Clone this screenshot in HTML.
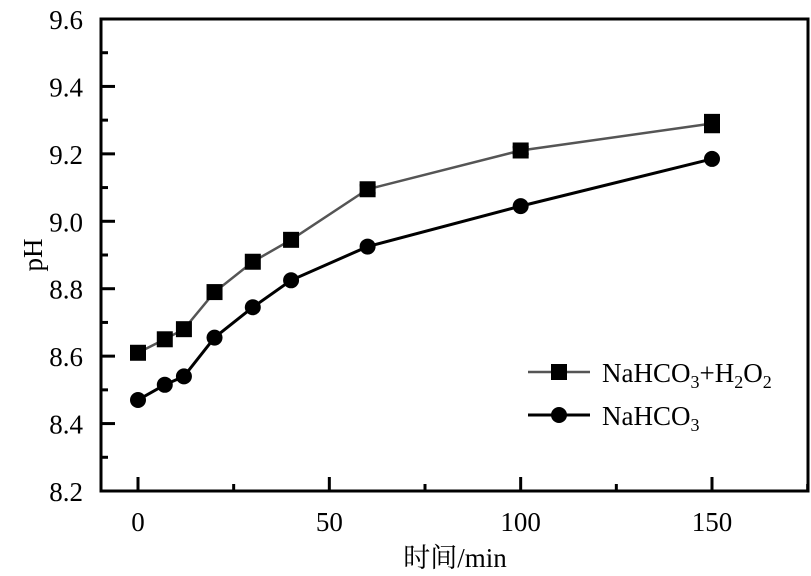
<!DOCTYPE html>
<html><head><meta charset="utf-8"><style>
body{margin:0;background:#fff;}
svg{display:block;font-family:"Liberation Serif","Noto Serif CJK SC",serif;}
</style></head><body>
<svg id="chart" width="811" height="576" viewBox="0 0 811 576" xmlns="http://www.w3.org/2000/svg">
<g id="plot"></g>
</svg>
<script>
const times=[0,7,12,20,30,40,60,100,150];
const phH2O2=[8.61,8.65,8.68,8.79,8.88,8.945,9.095,9.21,9.29];
const errH2O2=[0,0,0,0,0,0,0.012,0.01,0.025];
const phNaHCO3=[8.47,8.515,8.54,8.655,8.745,8.825,8.925,9.045,9.185];
const yTicks=[8.2,8.4,8.6,8.8,9.0,9.2,9.4,9.6];
const xTicks=[0,50,100,150];

const L=101,R=808,T=19,B=491;
const x=v=>138+(v-0)*(712-138)/150;
const y=v=>B-(v-8.2)*(B-T)/1.4;
const NS="http://www.w3.org/2000/svg";
const g=document.getElementById('plot');
function mk(tag,attrs,parent){const e=document.createElementNS(NS,tag);for(const k in attrs)e.setAttribute(k,attrs[k]);(parent||g).appendChild(e);return e;}

const frame=mk('rect',{x:L,y:T,width:R-L,height:B-T,fill:'none',stroke:'#000','stroke-width':3});



yTicks.forEach((v,i)=>{
  const t=mk('line',{x1:L,x2:L+14,y1:y(v),y2:y(v),stroke:'#000','stroke-width':3});
  
  
  if(i<yTicks.length-1){
    const m=mk('line',{x1:L,x2:L+7,y1:y(v+0.1),y2:y(v+0.1),stroke:'#000','stroke-width':3});
    
    
  }
  const lb=mk('text',{x:L-18,y:y(v)+10,'text-anchor':'end','font-size':27});
  lb.textContent=v.toFixed(1);
  
  
});
xTicks.forEach((v,i)=>{
  const t=mk('line',{x1:x(v),x2:x(v),y1:B,y2:B-14,stroke:'#000','stroke-width':3});
  
  
  const m=mk('line',{x1:x(v+25),x2:x(v+25),y1:B,y2:B-7,stroke:'#000','stroke-width':3});
  
  
  const lb=mk('text',{x:x(v),y:531,'text-anchor':'middle','font-size':27});
  lb.textContent=String(v);
  
  
});

const l1=mk('polyline',{points:times.map((t,i)=>x(t)+','+y(phH2O2[i])).join(' '),fill:'none',stroke:'#555','stroke-width':2.5});


const l2=mk('polyline',{points:times.map((t,i)=>x(t)+','+y(phNaHCO3[i])).join(' '),fill:'none',stroke:'#000','stroke-width':3});



times.forEach((t,i)=>{
  const e=errH2O2[i];
  if(e>0){
    const eb=mk('path',{d:`M${x(t)-8},${y(phH2O2[i]+e)}h16M${x(t)},${y(phH2O2[i]+e)}V${y(phH2O2[i]-e)}M${x(t)-8},${y(phH2O2[i]-e)}h16`,stroke:'#000','stroke-width':2.5,fill:'none'});
    
    
  }
  const s=mk('rect',{x:x(t)-8,y:y(phH2O2[i])-8,width:16,height:16,fill:'#000'});
  
  
  const c=mk('circle',{cx:x(t),cy:y(phNaHCO3[i]),r:8,fill:'#000'});
  
  
});
</script>
<svg style="position:absolute;left:0;top:0" width="811" height="576">
<g font-family="Liberation Serif, serif" font-size="27">
<line x1="528" y1="372" x2="590" y2="372" stroke="#555" stroke-width="2.5"/>
<rect x="551" y="364" width="16" height="16" fill="#000"/>
<text x="602" y="382">NaHCO<tspan font-size="18" dy="6">3</tspan><tspan dy="-6">+H</tspan><tspan font-size="18" dy="6">2</tspan><tspan dy="-6">O</tspan><tspan font-size="18" dy="6">2</tspan></text>
<line x1="528" y1="415" x2="590" y2="415" stroke="#000" stroke-width="3"/>
<circle cx="559" cy="415" r="8" fill="#000"/>
<text x="602" y="425">NaHCO<tspan font-size="18" dy="6">3</tspan></text>
</g>
<text x="0" y="0" transform="translate(42,255) rotate(-90)" text-anchor="middle" font-family="Liberation Serif, serif" font-size="27">pH</text>
<text x="455" y="567" text-anchor="middle" font-family="Liberation Serif, Noto Serif CJK SC, serif" font-size="27">时间/min</text>
</svg>
</body></html>
